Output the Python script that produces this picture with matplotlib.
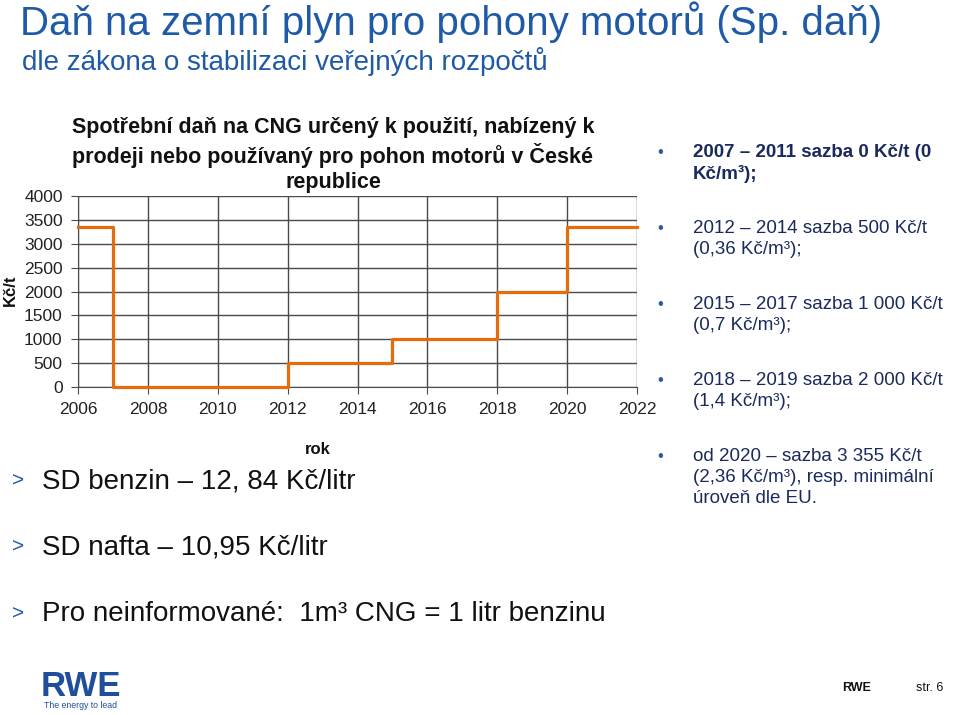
import matplotlib
matplotlib.use('Agg')
import matplotlib.pyplot as plt

# ── Data ───────────────────────────────────────────────────────────────────
YEARS = [2006, 2007, 2012, 2015, 2018, 2020, 2022]
RATE = [3355, 0, 500, 1000, 2000, 3355, 3355]   # Kč/t, step "post"
X_TICKS = list(range(2006, 2023, 2))
Y_TICKS = list(range(0, 4001, 500))

CHART_TITLE = ("Spotřební daň na CNG určený k použití, nabízený k\n"
               "prodeji nebo používaný pro pohon motorů v České\n"
               "republice")

RIGHT_BULLETS = [
    ("2007 – 2011 sazba 0 Kč/t (0\nKč/m³);", True),
    ("2012 – 2014 sazba 500 Kč/t\n(0,36 Kč/m³);", False),
    ("2015 – 2017 sazba 1 000 Kč/t\n(0,7 Kč/m³);", False),
    ("2018 – 2019 sazba 2 000 Kč/t\n(1,4 Kč/m³);", False),
    ("od 2020 – sazba 3 355 Kč/t\n(2,36 Kč/m³), resp. minimální\núroveň dle EU.", False),
]
RIGHT_Y = [152, 228, 304, 380, 456]

LEFT_BULLETS = [
    "SD benzin – 12, 84 Kč/litr",
    "SD nafta – 10,95 Kč/litr",
    "Pro neinformované:  1m³ CNG = 1 litr benzinu",
]
LEFT_Y = [481, 547, 614]

# ── Colours / fonts ────────────────────────────────────────────────────────
BLUE = "#1f5aa6"
NAVY = "#1a2a5e"
ORANGE = "#e46c0a"
GRID = "#4a4a4a"
SANS = ['Liberation Sans', 'DejaVu Sans']

W, H = 960, 715


def fx(x):
    return x / W


def fy(y):
    return 1 - y / H


fig = plt.figure(figsize=(9.6, 7.15), dpi=100, facecolor="white")

# ── Slide header ───────────────────────────────────────────────────────────
fig.text(fx(20), fy(22), "Daň na zemní plyn pro pohony motorů (Sp. daň)",
         fontsize=29, color=BLUE, family=SANS, va="center", ha="left")
fig.text(fx(22), fy(62), "dle zákona o stabilizaci veřejných rozpočtů",
         fontsize=20, color=BLUE, family=SANS, va="center", ha="left")

# ── Chart ──────────────────────────────────────────────────────────────────
L, R, T, B = 78, 637, 196, 387
ax = fig.add_axes([fx(L), fy(B), (R - L) / W, (B - T) / H])
ax.step(YEARS, RATE, where="post", color=ORANGE, linewidth=2.3, zorder=3,
        clip_on=False)
ax.set_xlim(2006, 2022)
ax.set_ylim(0, 4000)
ax.set_xticks(X_TICKS)
ax.set_yticks(Y_TICKS)
ax.grid(True, color=GRID, linewidth=1.0, zorder=0)
for s in ["top", "right"]:
    ax.spines[s].set_visible(False)
for s in ["left", "bottom"]:
    ax.spines[s].set_color(GRID)
ax.tick_params(length=5, color=GRID, labelsize=12.5, pad=6)
for lab in ax.get_xticklabels() + ax.get_yticklabels():
    lab.set_family(SANS)
    lab.set_color("#222222")

fig.text(fx(333), fy(155), CHART_TITLE, fontsize=15.5, fontweight="bold",
         family=SANS, ha="center", va="center", linespacing=1.25,
         color="#111111")
fig.text(fx(10), fy(290), "Kč/t", rotation=90, fontsize=12, fontweight="bold",
         family=SANS, ha="center", va="center", color="#111111")
fig.text(fx(318), fy(449), "rok", fontsize=12, fontweight="bold",
         family=SANS, ha="center", va="center", color="#111111")

# ── Right bullets ──────────────────────────────────────────────────────────
for (txt, bold), y in zip(RIGHT_BULLETS, RIGHT_Y):
    fig.text(fx(660), fy(y), "•", fontsize=12, color="#2b5c9e", family=SANS,
             ha="center", va="center")
    fig.text(fx(693), fy(y - 8), txt, fontsize=13.5, color=NAVY, family=SANS,
             fontweight="bold" if bold else "normal", ha="left", va="top",
             linespacing=1.3)

# ── Left bullets ───────────────────────────────────────────────────────────
for txt, y in zip(LEFT_BULLETS, LEFT_Y):
    fig.text(fx(12), fy(y), ">", fontsize=15, color=BLUE, family=SANS,
             ha="left", va="center")
    fig.text(fx(42), fy(y), txt, fontsize=20, color="#111111", family=SANS,
             ha="left", va="center")

# ── Footer ─────────────────────────────────────────────────────────────────
fig.text(fx(41), fy(686), "RWE", fontsize=25, fontweight="bold", color="#1f4f9a",
         family=SANS, ha="left", va="center")
fig.text(fx(44), fy(706), "The energy to lead", fontsize=6.3, color="#1f4f9a",
         family=SANS, ha="left", va="center")
fig.text(fx(857), fy(688), "RWE", fontsize=9, fontweight="bold", color="#111111",
         family=SANS, ha="center", va="center")
fig.text(fx(930), fy(688), "str. 6", fontsize=9, color="#111111",
         family=SANS, ha="center", va="center")

fig.savefig("out.png", dpi=100, facecolor="white")
